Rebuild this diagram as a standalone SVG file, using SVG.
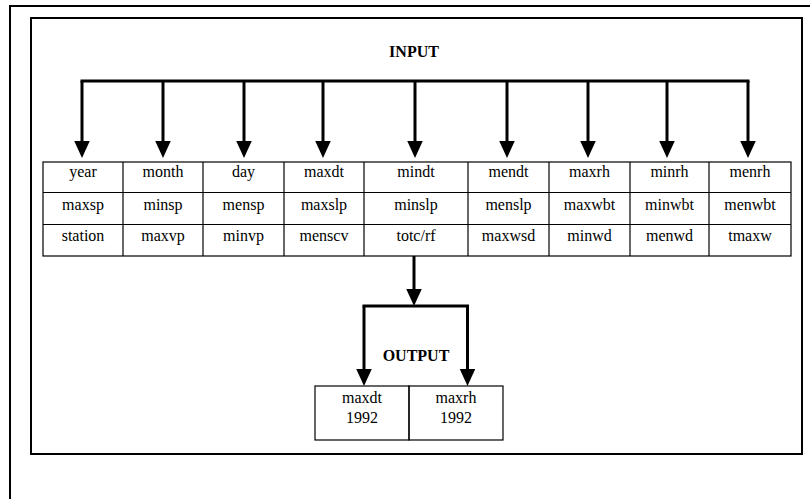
<svg xmlns="http://www.w3.org/2000/svg" width="810" height="499" viewBox="0 0 810 499">
  <style>
    .frame { fill: none; stroke: #000; stroke-width: 2; }
    .grid { fill: none; stroke: #000; stroke-width: 1.2; }
    .wire { fill: none; stroke: #000; stroke-width: 3; }
    .cell { font-family: "Liberation Serif", "Times New Roman", serif; font-size: 16px; fill: #000; text-anchor: middle; }
    .title { font-family: "Liberation Serif", "Times New Roman", serif; font-size: 16px; font-weight: bold; fill: #000; text-anchor: middle; }
  </style>
  <defs>
    <marker id="arrow" markerUnits="userSpaceOnUse" markerWidth="18" markerHeight="16" refX="0" refY="7.75" orient="auto">
      <path d="M0,0 L17,7.75 L0,15.5 Z" fill="#000"/>
    </marker>
  </defs>

  <rect width="810" height="499" fill="#fff"/>

  <!-- page border (runs off the right and bottom edges) -->
  <g id="page-border">
    <line class="frame" x1="9" y1="6" x2="810" y2="6"/>
    <line class="frame" x1="10" y1="5" x2="10" y2="499"/>
  </g>

  <!-- panel border -->
  <rect id="panel" class="frame" x="31" y="18" width="771" height="436"/>

  <!-- labels -->
  <g id="input-label">
    <text class="title" x="414" y="57">INPUT</text>
  </g>
  <g id="output-label">
    <text class="title" x="416" y="361">OUTPUT</text>
  </g>

  <!-- connectors -->
  <g id="connectors">
    <line class="wire" x1="80.5" y1="81" x2="749.5" y2="81"/>
    <line class="wire" x1="82" y1="81" x2="82" y2="141" marker-end="url(#arrow)"/>
    <line class="wire" x1="163" y1="81" x2="163" y2="141" marker-end="url(#arrow)"/>
    <line class="wire" x1="244" y1="81" x2="244" y2="141" marker-end="url(#arrow)"/>
    <line class="wire" x1="323" y1="81" x2="323" y2="141" marker-end="url(#arrow)"/>
    <line class="wire" x1="415" y1="81" x2="415" y2="141" marker-end="url(#arrow)"/>
    <line class="wire" x1="507" y1="81" x2="507" y2="141" marker-end="url(#arrow)"/>
    <line class="wire" x1="588" y1="81" x2="588" y2="141" marker-end="url(#arrow)"/>
    <line class="wire" x1="667" y1="81" x2="667" y2="141" marker-end="url(#arrow)"/>
    <line class="wire" x1="748" y1="81" x2="748" y2="141" marker-end="url(#arrow)"/>

    <line class="wire" x1="414" y1="256" x2="414" y2="289" marker-end="url(#arrow)"/>
    <line class="wire" x1="362.5" y1="306" x2="469" y2="306"/>
    <line class="wire" x1="364" y1="306" x2="364" y2="369" marker-end="url(#arrow)"/>
    <line class="wire" x1="467.5" y1="306" x2="467.5" y2="369" marker-end="url(#arrow)"/>
  </g>

  <!-- input table -->
  <g id="input-table">
    <rect class="grid" x="43" y="162" width="748" height="94"/>
    <line class="grid" x1="43" y1="192.5" x2="791" y2="192.5"/>
    <line class="grid" x1="43" y1="224.5" x2="791" y2="224.5"/>
    <line class="grid" x1="123" y1="162" x2="123" y2="256"/>
    <line class="grid" x1="203" y1="162" x2="203" y2="256"/>
    <line class="grid" x1="284" y1="162" x2="284" y2="256"/>
    <line class="grid" x1="364" y1="162" x2="364" y2="256"/>
    <line class="grid" x1="468" y1="162" x2="468" y2="256"/>
    <line class="grid" x1="549" y1="162" x2="549" y2="256"/>
    <line class="grid" x1="630" y1="162" x2="630" y2="256"/>
    <line class="grid" x1="709" y1="162" x2="709" y2="256"/>

    <text class="cell" x="83" y="177">year</text>
    <text class="cell" x="163" y="177">month</text>
    <text class="cell" x="243.5" y="177">day</text>
    <text class="cell" x="324" y="177">maxdt</text>
    <text class="cell" x="416" y="177">mindt</text>
    <text class="cell" x="508.5" y="177">mendt</text>
    <text class="cell" x="589.5" y="177">maxrh</text>
    <text class="cell" x="669.5" y="177">minrh</text>
    <text class="cell" x="750" y="177">menrh</text>

    <text class="cell" x="83" y="210">maxsp</text>
    <text class="cell" x="163" y="210">minsp</text>
    <text class="cell" x="243.5" y="210">mensp</text>
    <text class="cell" x="324" y="210">maxslp</text>
    <text class="cell" x="416" y="210">minslp</text>
    <text class="cell" x="508.5" y="210">menslp</text>
    <text class="cell" x="589.5" y="210">maxwbt</text>
    <text class="cell" x="669.5" y="210">minwbt</text>
    <text class="cell" x="750" y="210">menwbt</text>

    <text class="cell" x="83" y="241">station</text>
    <text class="cell" x="163" y="241">maxvp</text>
    <text class="cell" x="243.5" y="241">minvp</text>
    <text class="cell" x="324" y="241">menscv</text>
    <text class="cell" x="416" y="241">totc/rf</text>
    <text class="cell" x="508.5" y="241">maxwsd</text>
    <text class="cell" x="589.5" y="241">minwd</text>
    <text class="cell" x="669.5" y="241">menwd</text>
    <text class="cell" x="750" y="241">tmaxw</text>
  </g>

  <!-- output table -->
  <g id="output-maxdt">
    <rect class="grid" x="315" y="386" width="94" height="54"/>
    <text class="cell" x="362" y="403">maxdt</text>
    <text class="cell" x="362" y="423">1992</text>
  </g>
  <g id="output-maxrh">
    <rect class="grid" x="409" y="386" width="94" height="54"/>
    <text class="cell" x="456" y="403">maxrh</text>
    <text class="cell" x="456" y="423">1992</text>
  </g>
</svg>
